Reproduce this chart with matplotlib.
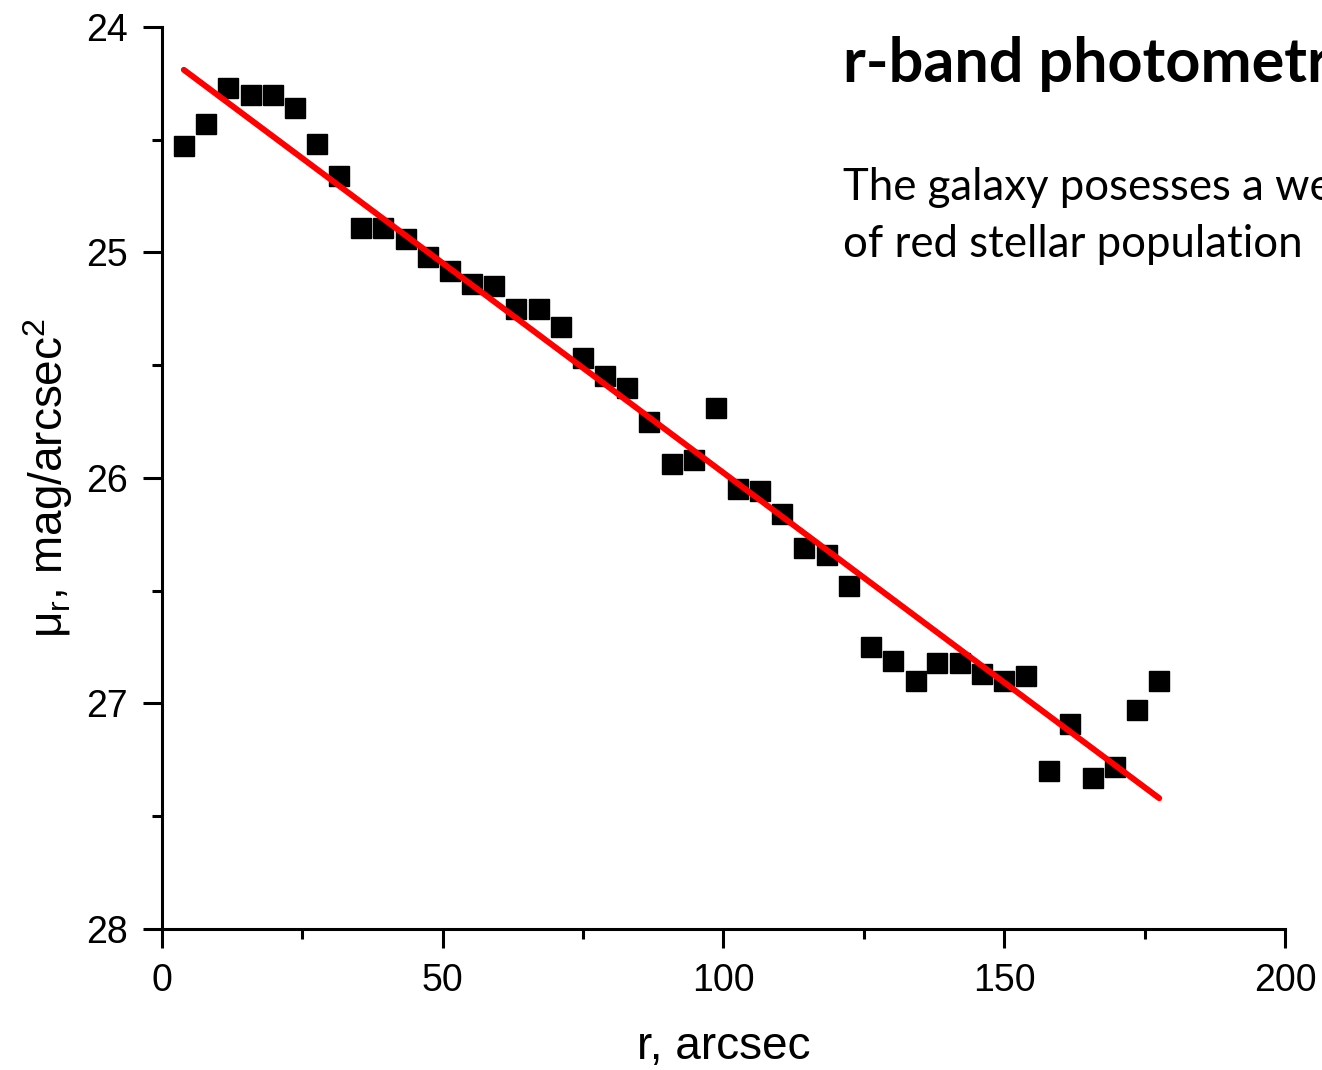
import matplotlib
matplotlib.use("Agg")
import matplotlib.pyplot as plt
from matplotlib.ticker import MultipleLocator

plt.rcParams['font.family'] = ['Liberation Sans', 'DejaVu Sans']
plt.rcParams['mathtext.fontset'] = 'custom'
plt.rcParams['mathtext.rm'] = 'Liberation Sans'
plt.rcParams['mathtext.it'] = 'Liberation Sans'
plt.rcParams['mathtext.default'] = 'regular'

r_arcsec = [3.9, 7.9, 11.8, 15.8, 19.7, 23.7, 27.6, 31.5, 35.5, 39.4,
            43.4, 47.3, 51.3, 55.2, 59.2, 63.1, 67.1, 71.0, 75.0, 78.9,
            82.9, 86.8, 90.8, 94.7, 98.6, 102.6, 106.5, 110.5, 114.4, 118.4,
            122.3, 126.3, 130.2, 134.2, 138.1, 142.1, 146.0, 150.0, 153.9, 157.9,
            161.8, 165.8, 169.7, 173.6, 177.6]
mu_r = [24.53, 24.43, 24.27, 24.30, 24.30, 24.36, 24.52, 24.66, 24.89, 24.89,
        24.94, 25.02, 25.08, 25.14, 25.15, 25.25, 25.25, 25.33, 25.47, 25.55,
        25.60, 25.75, 25.94, 25.92, 25.69, 26.05, 26.06, 26.16, 26.31, 26.34,
        26.48, 26.75, 26.81, 26.90, 26.82, 26.82, 26.87, 26.90, 26.88, 27.30,
        27.09, 27.33, 27.28, 27.03, 26.90]
fit_r = [3.9, 177.6]
fit_mu = [24.19, 27.42]

x_ticks = [0, 50, 100, 150, 200]
y_ticks = [24, 25, 26, 27, 28]

title_text = 'r-band photometry'
body_lines = ['The galaxy posesses a weak disk', 'of red stellar population']

fig = plt.figure(figsize=(13.22, 10.70), dpi=100)
ax = fig.add_axes([0.1225, 0.1318, 0.8495, 0.843])

ax.plot(r_arcsec, mu_r, linestyle='none', marker='s', markersize=14.5,
        color='black', zorder=2)
ax.plot(fit_r, fit_mu, color='#ff0000', linewidth=4.3,
        solid_capstyle='round', zorder=3)

ax.set_xlim(0, 200)
ax.set_ylim(28, 24)
ax.set_xticks(x_ticks)
ax.set_yticks(y_ticks)
ax.xaxis.set_minor_locator(MultipleLocator(25))
ax.yaxis.set_minor_locator(MultipleLocator(0.5))

for s in ['top', 'right']:
    ax.spines[s].set_visible(False)
for s in ['left', 'bottom']:
    ax.spines[s].set_linewidth(2.2)

ax.tick_params(which='major', direction='out', length=13.5, width=2.2,
               labelsize=27, pad=11)
ax.tick_params(which='minor', direction='out', length=7, width=2.2)

ax.set_xlabel('r, arcsec', fontsize=33, labelpad=18.5)
ax.set_ylabel(r'$\mu_r$, mag/arcsec$^2$', fontsize=33, labelpad=8)

fig.text(843 / 1322, 1 - 82 / 1070, title_text, fontsize=44, fontweight='bold',
         family=['Lato', 'DejaVu Sans'], ha='left', va='baseline')
fig.text(843 / 1322, 1 - 200 / 1070, body_lines[0], fontsize=31.5,
         family=['Lato', 'DejaVu Sans'], ha='left', va='baseline')
fig.text(843 / 1322, 1 - 257 / 1070, body_lines[1], fontsize=31.5,
         family=['Lato', 'DejaVu Sans'], ha='left', va='baseline')

fig.savefig('out.png', dpi=100)
